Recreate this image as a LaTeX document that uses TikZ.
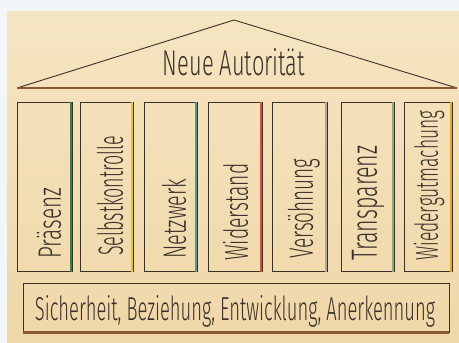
\documentclass[tikz,border=0pt]{standalone}
\usepackage{fontspec,graphicx}
\setmainfont{Fira Sans Light}
\definecolor{margin}{RGB}{243,246,249}
\definecolor{papertop}{RGB}{246,229,194}
\definecolor{paperbot}{RGB}{239,215,168}
\definecolor{ink}{RGB}{58,48,40}
\definecolor{beamcol}{RGB}{140,88,48}
\definecolor{penA}{RGB}{62,128,66}
\definecolor{penB}{RGB}{226,196,62}
\definecolor{penC}{RGB}{88,150,150}
\definecolor{penD}{RGB}{214,84,54}
\definecolor{penE}{RGB}{176,166,160}
\definecolor{penF}{RGB}{142,170,120}
\definecolor{penG}{RGB}{226,170,40}
\tikzstyle{pillar}=[rectangle,draw=ink,line width=0.9pt,minimum height=169pt,anchor=north west,inner sep=0pt]
\tikzstyle{pillarname}=[rotate=90,anchor=base west,inner sep=0pt,text=ink]
\tikzstyle{stripe}=[line width=2.5pt]
\tikzstyle{beam}=[line width=2.6pt,draw=beamcol]
\tikzstyle{roof}=[line width=0.9pt,draw=ink]

\begin{document}
\begin{tikzpicture}[x=1pt,y=-1pt]
            \useasboundingbox (0,0) rectangle (459,343);
            \fill[margin] (0,0) rectangle (459,343);
            \fill[top color=papertop,bottom color=paperbot] (7,11) rectangle (459,343);
            % roof
            \coordinate (apex) at (234,20);
            \coordinate (eaveL) at (17,88);
            \coordinate (eaveR) at (457,88);
            \draw [roof] (eaveL) -- (apex) -- (eaveR);
            \draw [beam] (eaveL) -- (eaveR);
            \node (title)[anchor=base,inner sep=0pt,text=ink] at (234,75) {\resizebox{142pt}{27pt}{Neue Autorität}};
            % pillars
            \node (p1)[pillar,minimum width=55pt] at (17,102) {};
            \node (p2)[pillar,minimum width=53pt] at (80,102) {};
            \node (p3)[pillar,minimum width=53pt] at (144,102) {};
            \node (p4)[pillar,minimum width=54pt] at (208,102) {};
            \node (p5)[pillar,minimum width=55pt] at (272,102) {};
            \node (p6)[pillar,minimum width=53pt] at (341,102) {};
            \node (p7)[pillar,minimum width=48pt] at (404,102) {};
            \draw [stripe,penA] ([xshift=-2pt]p1.north east) -- ([xshift=-2pt]p1.south east);
            \draw [stripe,penB] ([xshift=-2pt]p2.north east) -- ([xshift=-2pt]p2.south east);
            \draw [stripe,penC] ([xshift=-2pt]p3.north east) -- ([xshift=-2pt]p3.south east);
            \draw [stripe,penD] ([xshift=-2pt]p4.north east) -- ([xshift=-2pt]p4.south east);
            \draw [stripe,penE] ([xshift=-2pt]p5.north east) -- ([xshift=-2pt]p5.south east);
            \draw [stripe,penF] ([xshift=-2pt]p6.north east) -- ([xshift=-2pt]p6.south east);
            \draw [stripe,penG] ([xshift=-2pt]p7.north east) -- ([xshift=-2pt]p7.south east);
            \node (t1)[pillarname] at ([xshift=-12pt,yshift=13pt]p1.south east) {\resizebox{71pt}{24pt}{Präsenz}};
            \node (t2)[pillarname] at ([xshift=-11pt,yshift=16pt]p2.south east) {\resizebox{120pt}{26pt}{Selbstkontrolle}};
            \node (t3)[pillarname] at ([xshift=-12pt,yshift=13pt]p3.south east) {\resizebox{80pt}{24pt}{Netzwerk}};
            \node (t4)[pillarname] at ([xshift=-15pt,yshift=11pt]p4.south east) {\resizebox{97pt}{25pt}{Widerstand}};
            \node (t5)[pillarname] at ([xshift=-15pt,yshift=13pt]p5.south east) {\resizebox{100pt}{25pt}{Versöhnung}};
            \node (t6)[pillarname] at ([xshift=-18pt,yshift=11pt]p6.south east) {\resizebox{115pt}{25pt}{Transparenz}};
            \node (t7)[pillarname] at ([xshift=-15pt,yshift=11pt]p7.south east) {\resizebox{150pt}{24pt}{Wiedergutmachung}};
            % foundation
            \node (base)[rectangle,draw=ink,line width=0.9pt,minimum width=426pt,minimum height=49pt,inner sep=0pt] at (236,307.5) {};
            \draw [beam] (base.south west) -- (base.south east);
            \node (values)[anchor=base,inner sep=0pt,text=ink] at (235,320) {\resizebox{400pt}{25pt}{Sicherheit, Beziehung, Entwicklung, Anerkennung}};
        \end{tikzpicture}
\end{document}
